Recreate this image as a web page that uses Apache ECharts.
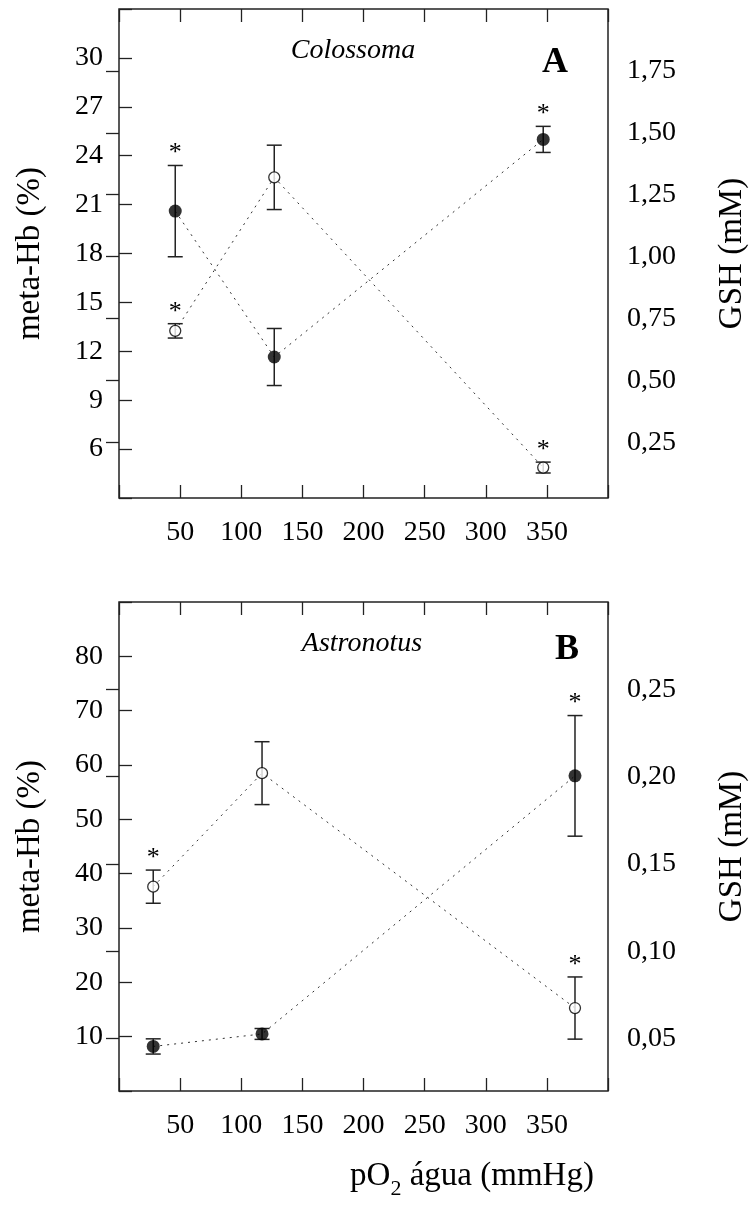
<!DOCTYPE html>
<html><head><meta charset="utf-8">
<script src="https://cdn.jsdelivr.net/npm/echarts@6/dist/echarts.min.js"></script>
<style>html,body{margin:0;padding:0;background:#fff}#c{width:749px;height:1207px}</style>
</head><body><div id="c"></div>
<script>
// ---- data ----
const xA = [46, 127, 347];
const metaA = [20.6, 11.65, 25.0];
const metaAErr = [2.8, 1.75, 0.8];
const metaAStar = [1, 0, 1];
const gshA = [0.70, 1.32, 0.148];
const gshAErr = [0.029, 0.13, 0.022];
const gshAStar = [1, 0, 1];
const gshATicks = [0.25, 0.5, 0.75, 1.0, 1.25, 1.5, 1.75];

const xB = [28, 117, 373];
const metaB = [8.2, 10.5, 58.0];
const metaBErr = [1.4, 1.0, 11.1];
const metaBStar = [0, 0, 1];
const gshB = [0.137, 0.202, 0.0675];
const gshBErr = [0.0095, 0.018, 0.0178];
const gshBStar = [1, 0, 1];
const gshBTicks = [0.05, 0.10, 0.15, 0.20, 0.25];

// ---- styles ----
const FF = 'Liberation Serif';
const AX = '#222';
const TICK = {show: true, inside: true, length: 13, lineStyle: {color: AX, width: 1.3}};
const LBL = {fontFamily: FF, fontSize: 28, color: '#000'};
const comma = v => v.toFixed(2).replace('.', ',');

function xAxes(g) {
  const base = {gridIndex: g, type: 'value', min: 0, max: 400, interval: 50,
    axisLine: {show: false}, splitLine: {show: false}, axisTick: TICK};
  return [
    Object.assign({}, base, {position: 'bottom',
      axisLabel: Object.assign({margin: 21, formatter: v => (v <= 0 || v >= 400) ? '' : String(v)}, LBL)}),
    Object.assign({}, base, {position: 'top', axisLabel: {show: false}})
  ];
}
function yLeft(g, min, max, step) {
  return {gridIndex: g, type: 'value', position: 'left', min: min, max: max, interval: step,
    axisLine: {show: false}, splitLine: {show: false}, axisTick: TICK,
    axisLabel: Object.assign({margin: 16, formatter: v => (v <= min || v >= max) ? '' : String(v)}, LBL),
    name: 'meta-Hb (%)', nameLocation: 'middle', nameGap: 72,
    nameTextStyle: {fontFamily: FF, fontSize: 33, color: '#000'}};
}
function yRight(g, min, max, ticks) {
  return {gridIndex: g, type: 'value', position: 'right', min: min, max: max,
    axisLine: {show: false}, splitLine: {show: false},
    axisTick: Object.assign({customValues: ticks}, TICK),
    axisLabel: Object.assign({margin: 19, customValues: ticks, formatter: comma}, LBL),
    name: 'GSH (mM)', nameLocation: 'middle', nameGap: 108, nameRotate: 90,
    nameTextStyle: {fontFamily: FF, fontSize: 33, color: '#000'}};
}
function lineS(xs, ys, xi, yi) {
  return {type: 'line', xAxisIndex: xi, yAxisIndex: yi, symbol: 'none', z: 1, silent: true,
    lineStyle: {type: [2, 5], width: 1, color: '#333'},
    data: xs.map((x, i) => [x, ys[i]])};
}
function errS(xs, ys, es, ss, xi, yi) {
  return {type: 'custom', xAxisIndex: xi, yAxisIndex: yi, z: 2, silent: true,
    data: xs.map((x, i) => [x, ys[i], es[i], ss[i]]),
    renderItem: function (p, api) {
      const x = api.value(0), y = api.value(1), e = api.value(2), s = api.value(3);
      const t = api.coord([x, y + e]), b = api.coord([x, y - e]);
      const h = 7.5, st = {stroke: AX, lineWidth: 1.5};
      const ch = [
        {type: 'line', shape: {x1: t[0], y1: t[1], x2: b[0], y2: b[1]}, style: st},
        {type: 'line', shape: {x1: t[0] - h, y1: t[1], x2: t[0] + h, y2: t[1]}, style: st},
        {type: 'line', shape: {x1: b[0] - h, y1: b[1], x2: b[0] + h, y2: b[1]}, style: st}
      ];
      if (s) ch.push({type: 'text', style: {text: '*', x: t[0], y: t[1] - 12,
        align: 'center', verticalAlign: 'middle', textAlign: 'center', textVerticalAlign: 'middle',
        font: '26px "' + FF + '"', fill: '#000'}});
      return {type: 'group', children: ch};
    }};
}
function dotS(xs, ys, xi, yi, open) {
  return {type: 'scatter', xAxisIndex: xi, yAxisIndex: yi, z: 3, silent: true,
    symbol: 'circle', symbolSize: open ? 11 : 13,
    itemStyle: open ? {color: '#fff', borderColor: '#000', borderWidth: 1.3} : {color: '#000'},
    data: xs.map((x, i) => [x, ys[i]])};
}
function txt(text, x, y, size, extra) {
  return {type: 'text', silent: true, style: Object.assign({text: text, x: x, y: y,
    align: 'center', verticalAlign: 'middle', textAlign: 'center', textVerticalAlign: 'middle',
    fontFamily: FF, fontSize: size, fill: '#000'}, extra || {})};
}

const chart = echarts.init(document.getElementById('c'));
chart.setOption({
  animation: false,
  backgroundColor: '#fff',
  grid: [
    {left: 119, top: 9, width: 489, height: 489, show: true, borderColor: AX, borderWidth: 1.5,
     backgroundColor: 'transparent', containLabel: false, outerBoundsMode: 'none'},
    {left: 119, top: 602, width: 489, height: 489, show: true, borderColor: AX, borderWidth: 1.5,
     backgroundColor: 'transparent', containLabel: false, outerBoundsMode: 'none'}
  ],
  xAxis: xAxes(0).concat(xAxes(1)),
  yAxis: [yLeft(0, 3, 33, 3), yRight(0, 0.025, 2.0, gshATicks), yLeft(1, 0, 90, 10), yRight(1, 0.02, 0.30, gshBTicks)],
  series: [
    lineS(xA, metaA, 0, 0), lineS(xA, gshA, 0, 1),
    errS(xA, metaA, metaAErr, metaAStar, 0, 0), errS(xA, gshA, gshAErr, gshAStar, 0, 1),
    dotS(xA, metaA, 0, 0, false), dotS(xA, gshA, 0, 1, true),
    lineS(xB, metaB, 2, 2), lineS(xB, gshB, 2, 3),
    errS(xB, metaB, metaBErr, metaBStar, 2, 2), errS(xB, gshB, gshBErr, gshBStar, 2, 3),
    dotS(xB, metaB, 2, 2, false), dotS(xB, gshB, 2, 3, true)
  ],
  graphic: [
    txt('Colossoma', 353, 51, 28, {fontStyle: 'italic'}),
    txt('A', 555, 63, 36, {fontWeight: 'bold'}),
    txt('Astronotus', 362, 644, 28, {fontStyle: 'italic'}),
    txt('B', 567, 650, 36, {fontWeight: 'bold'}),
    txt('pO{s|2} água (mmHg)', 472, 1176, 33, {lineHeight: 48,
      rich: {s: {fontFamily: FF, fontSize: 22, lineHeight: 22, verticalAlign: 'bottom', fill: '#000'}}})
  ]
});
</script></body></html>
